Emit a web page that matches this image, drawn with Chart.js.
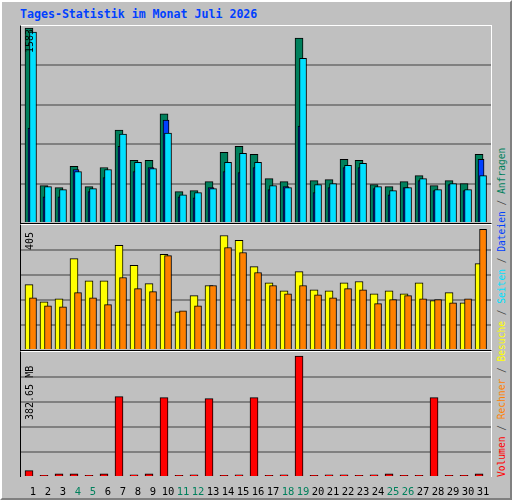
<!DOCTYPE html>
<html><head><meta charset="utf-8">
<script src="https://cdn.jsdelivr.net/npm/chart.js@4/dist/chart.umd.min.js"></script>
<style>
body{margin:0;background:#c0c0c0;width:512px;height:500px;overflow:hidden;font-family:"DejaVu Sans Mono",monospace}
#frame{position:absolute;left:0;top:0;width:508px;height:496px;border:2px solid;border-color:#fff #808080 #808080 #fff;background:#c0c0c0}
.box{position:absolute;left:20px;width:470px;border-left:1px solid #000;border-top:1px solid #fff;border-right:1px solid #fff;border-bottom:1px solid #000}
canvas{position:absolute;left:0;top:0}
.vl{position:absolute;transform-origin:0 0;transform:rotate(-90deg);white-space:nowrap;font-size:10px;color:#000}
#title{position:absolute;left:20px;top:7px;font-weight:bold;font-size:11.6px;color:#0040ff}
</style></head><body>
<div id="frame"></div>
<div id="title">Tages-Statistik im Monat Juli 2026</div>
<div class="box" style="top:25px;height:197px"><canvas id="c1" width="470" height="197"></canvas></div>
<div class="box" style="top:224px;height:125px"><canvas id="c2" width="470" height="125"></canvas></div>
<div class="box" style="top:351px;height:125px;border-bottom:none"></div>
<canvas id="c3" width="470" height="145" style="left:21px;top:352px"></canvas>
<div class="vl" style="left:24px;top:53px">1583</div>
<div class="vl" style="left:24px;top:250px">405</div>
<div class="vl" style="left:24px;top:420px">382.65 MB</div>
<div class="vl" style="left:496px;top:477px;font-size:9.6px;color:#404040"><span style="color:#ff0000">Volumen</span> / <span style="color:#ff8000">Rechner</span> / <span style="color:#ffff00">Besuche</span> / <span style="color:#00e0ff">Seiten</span> / <span style="color:#0040ff">Dateien</span> / <span style="color:#00805c">Anfragen</span></div>
<script>
const days = Array.from({length:31},(_,i)=>i+1);
const weekend = [4,5,11,12,18,19,25,26];
const hits  = [1567,300,284,455,292,446,747,503,503,877,252,260,333,568,617,552,357,333,1486,341,349,511,503,308,292,333,381,300,341,317,552];
const files = [763,211,211,430,252,365,617,414,446,828,211,203,284,414,406,446,268,292,779,244,284,446,446,276,227,284,341,260,308,260,511];
const pages = [1534,292,268,414,276,430,714,487,438,722,227,244,276,487,560,487,300,284,1323,308,317,463,479,292,260,284,357,268,317,268,381];
const visits= [212,156,166,296,224,224,339,274,215,310,124,176,209,371,355,270,218,192,254,195,192,218,222,182,192,182,218,160,186,153,280];
const sites = [169,143,140,186,169,147,235,199,189,306,127,143,209,332,316,251,209,182,209,179,169,199,195,150,163,176,166,163,153,166,391];
const volume= [19.6,5,10,10,5,10,246,7,10,243,5,7,240,5,7,243,5,7,370,5,7,7,5,7,10,5,5,243,5,5,10];
const maxHits=1583, maxVisits=405, maxVol=382.65;

function ds(vals, off, w, color, order){
  return {data: vals.map((v,i)=>({x:days[i]+off, y:v})), backgroundColor:color, borderColor:'#000',
    borderWidth:1, barThickness:w, grouped:false, order:order, borderSkipped:'bottom'};
}
function cfg(datasets, ymax, showX){
  return {type:'bar', data:{datasets},
    options:{responsive:false, animation:false, devicePixelRatio:1,
      layout:{padding:0},
      plugins:{legend:{display:false}, tooltip:{enabled:false}},
      scales:{
        x:{type:'linear', offset:false, min:0.2, max:31.53, display:showX, grid:{display:false}, border:{display:false},
          afterBuildTicks:s=>{s.ticks=days.map(d=>({value:d}));},
          afterFit:s=>{ if(showX) s.height=20; },
          ticks:{autoSkip:false, maxRotation:0, padding:1, font:{family:'DejaVu Sans Mono', size:10.5},
            color:c=>weekend.includes(c.tick.value)?'#00805c':'#000', callback:v=>String(v)}},
        y:{min:0, max:ymax, ticks:{display:false, stepSize:ymax/5}, border:{display:false},
          afterFit:s=>{s.width=0;},
          grid:{color:c=>(c.tick.value>0&&c.tick.value<ymax-1e-6)?'#808080':'rgba(0,0,0,0)', lineWidth:2, drawTicks:false}}
      }}};
}
new Chart(document.getElementById('c1'), cfg([
  ds(hits,-0.267,8,'#00805c',3), ds(files,-0.133,6,'#0040ff',2), ds(pages,0,7,'#00e0ff',1)], maxHits, false));
new Chart(document.getElementById('c2'), cfg([
  ds(visits,-0.267,8,'#ffff00',2), ds(sites,0,7,'#ff8000',1)], maxVisits, false));
new Chart(document.getElementById('c3'), cfg([
  ds(volume,-0.267,8,'#ff0000',1)], maxVol, true));
</script></body></html>
